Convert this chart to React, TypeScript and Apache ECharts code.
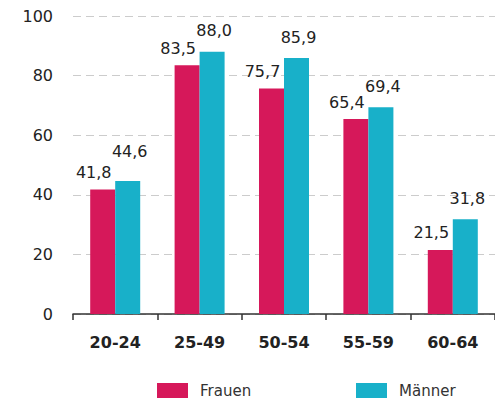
import React, { useEffect, useRef } from "react";
import * as echarts from "echarts";

const categories = ["20-24", "25-49", "50-54", "55-59", "60-64"];
const frauen = [41.8, 83.5, 75.7, 65.4, 21.5];
const maenner = [44.6, 88.0, 85.9, 69.4, 31.8];
const yTicks = [0, 20, 40, 60, 80, 100];

const PINK = "#d6185a";
const CYAN = "#18b0c9";
const FONT = "'DejaVu Sans', 'Noto Sans', sans-serif";

export default function App() {
  const ref = useRef<HTMLDivElement>(null);
  useEffect(() => {
    if (!ref.current) return;
    const chart = echarts.init(ref.current, null, { renderer: "svg" });
    const fmt = (p: any) => Number(p.value).toFixed(1).replace(".", ",");
    const legendText = { fontSize: 15, color: "#333", fontFamily: FONT, padding: [0, 0, 0, 7] };
    chart.setOption({
      animation: false,
      backgroundColor: "#ffffff",
      textStyle: { fontFamily: FONT },
      grid: { left: 73, right: -8, top: 16, bottom: 87, containLabel: false },
      legend: [
        {
          data: ["Frauen"],
          left: 157,
          top: 383,
          padding: 0,
          itemWidth: 31,
          itemHeight: 15,
          icon: "rect",
          textStyle: legendText,
        },
        {
          data: ["Männer"],
          left: 356,
          top: 383,
          padding: 0,
          itemWidth: 31,
          itemHeight: 15,
          icon: "rect",
          textStyle: legendText,
        },
      ],
      xAxis: {
        type: "category",
        data: categories,
        axisLine: { lineStyle: { color: "#333", width: 1.5 } },
        axisTick: { show: true, length: 6, lineStyle: { color: "#333", width: 1.5 } },
        axisLabel: { fontSize: 16, fontWeight: "bold", color: "#222", margin: 20, fontFamily: FONT },
      },
      yAxis: {
        type: "value",
        min: yTicks[0],
        max: yTicks[yTicks.length - 1],
        interval: 20,
        axisLine: { show: false },
        axisTick: { show: false },
        axisLabel: { fontSize: 16, color: "#222", margin: 20, fontFamily: FONT },
        splitLine: { lineStyle: { color: "#cccccc", type: [8, 5], width: 1 } },
      },
      series: [
        {
          name: "Frauen",
          type: "bar",
          data: frauen,
          barWidth: 25,
          barGap: "0%",
          itemStyle: { color: PINK },
          label: {
            show: true,
            position: "top",
            distance: 9,
            offset: [-9, 0],
            formatter: fmt,
            fontSize: 16,
            color: "#222",
            fontFamily: FONT,
          },
        },
        {
          name: "Männer",
          type: "bar",
          data: maenner.map((v, i) =>
            i === 0 ? { value: v, label: { distance: 22 } } : v
          ),
          barWidth: 25,
          barGap: "0%",
          itemStyle: { color: CYAN },
          label: {
            show: true,
            position: "top",
            distance: 13,
            offset: [2, 0],
            formatter: fmt,
            fontSize: 16,
            color: "#222",
            fontFamily: FONT,
          },
        },
      ],
    });
    return () => chart.dispose();
  }, []);
  return <div ref={ref} style={{ width: 495, height: 401, position: "absolute", left: 0, top: 0 }} />;
}
